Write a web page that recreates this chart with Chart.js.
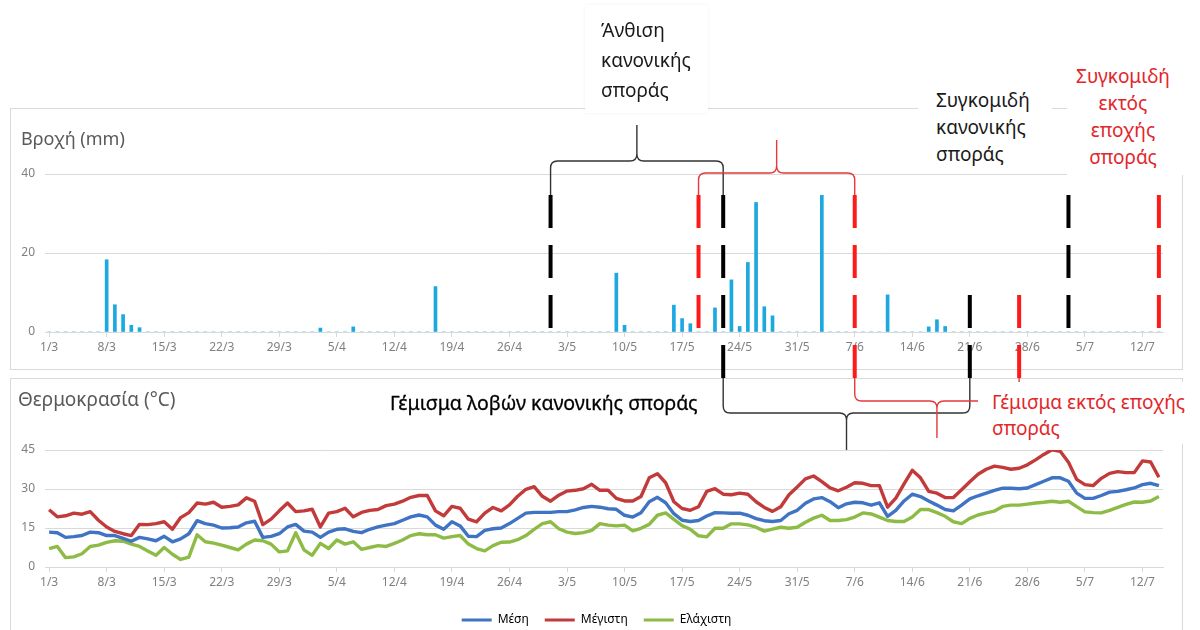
<!DOCTYPE html>
<html lang="el">
<head>
<meta charset="UTF-8">
<title>Βροχή και θερμοκρασία</title>
<script src="https://cdn.jsdelivr.net/npm/chart.js"></script>
<style>
    body { margin: 0; background: #fff; font-family: 'Noto Sans', sans-serif; }
    #wrap { position: relative; width: 1200px; height: 630px; overflow: hidden; }
    .panel { position: absolute; box-sizing: border-box; border: 1px solid #d9d9d9; }
    canvas { position: absolute; }
    .ttl { position: absolute; color: #595959; white-space: nowrap; }
    .note { position: absolute; background: #fff; font-size: 19px; white-space: nowrap; box-sizing: border-box; }
</style>
</head>
<body>
<div id="wrap">
    <div class="panel" style="left:10px;top:108px;width:1173px;height:262px"></div>
    <div class="panel" style="left:10px;top:378px;width:1173px;height:260px"></div>
    <canvas id="rain" width="1173" height="262" style="left:10px;top:108px"></canvas>
    <canvas id="temp" width="1173" height="270" style="left:10px;top:378px"></canvas>
    <canvas id="overlay" width="1200" height="630" style="left:0;top:0"></canvas>

    <div class="ttl" style="left:21px;top:126px;font-size:18px">Βροχή (mm)</div>
    <div class="ttl" style="left:18px;top:386px;font-size:19px">Θερμοκρασία (°C)</div>

    <div class="note" style="left:585px;top:5px;width:123px;height:108px;padding:10px 0 0 16px;line-height:30px;color:#1a1a1a;box-shadow:0 0 3px rgba(0,0,0,0.06)">Άνθιση<br>κανονικής<br>σποράς</div>
    <div class="note" style="left:918px;top:78px;width:134px;height:96px;padding:9px 0 0 18px;line-height:27px;color:#1a1a1a">Συγκομιδή<br>κανονικής<br>σποράς</div>
    <div class="note" style="left:1067px;top:50px;width:128px;height:125px;padding:13px 16px 0 0;line-height:27px;color:#e3262b;text-align:center">Συγκομιδή<br>εκτός<br>εποχής<br>σποράς</div>
    <div class="note" style="left:390px;top:391px;font-size:19.5px;line-height:24px;color:#000;background:transparent;-webkit-text-stroke:0.3px #000">Γέμισμα λοβών κανονικής σποράς</div>
    <div class="note" style="left:978px;top:382px;width:217px;height:62px;padding:7px 0 0 14px;line-height:26px;color:#e3262b">Γέμισμα εκτός εποχής<br>σποράς</div>
</div>

<script>
    // ημερομηνίες 1/3 - 14/7
    const months = [[3, 31], [4, 30], [5, 31], [6, 30], [7, 14]];
    const days = [];
    months.forEach(([m, n]) => { for (let d = 1; d <= n; d++) days.push(d + '/' + m); });

    // βροχή (mm)
    const rain = [
        0, 0, 0, 0, 0, 0, 0, 18.3, 6.9, 4.4,
        1.7, 1.1, 0, 0, 0, 0, 0, 0, 0, 0,
        0, 0, 0, 0, 0, 0, 0, 0, 0, 0,
        0, 0, 0, 1.0, 0, 0, 0, 1.3, 0, 0,
        0, 0, 0, 0, 0, 0, 0, 11.5, 0, 0,
        0, 0, 0, 0, 0, 0, 0, 0, 0, 0,
        0, 0, 0, 0, 0, 0, 0, 0, 0, 14.9,
        1.7, 0, 0, 0, 0, 0, 6.8, 3.4, 2.1, 0,
        0, 6.1, 0, 13.2, 1.4, 17.6, 32.8, 6.4, 4.1, 0,
        0, 0, 0, 0, 34.6, 0, 0, 0, 0, 0,
        0, 0, 9.4, 0, 0, 0, 0, 1.3, 3.1, 1.4,
        0, 0, 0, 0, 0, 0, 0, 0, 0, 0,
        0, 0, 0, 0, 0, 0, 0, 0, 0, 0,
        0, 0, 0, 0, 0, 0
    ];

    // θερμοκρασία (°C)
    const tMean = [
        13.4, 13.2, 11.4, 11.7, 12.1, 13.4, 13.2, 12.1, 12.1, 11.0,
        9.9, 11.4, 10.8, 10.1, 11.8, 9.7, 10.8, 12.8, 17.8, 16.7,
        16.1, 15.0, 15.1, 15.4, 17.0, 17.6, 11.4, 11.8, 12.8, 15.4,
        16.4, 13.8, 13.4, 11.4, 13.4, 14.5, 14.7, 13.7, 13.2, 14.5,
        15.4, 16.1, 16.7, 18.0, 19.3, 20.0, 19.3, 16.1, 14.5, 17.4,
        15.8, 11.8, 11.7, 14.1, 14.7, 15.0, 16.7, 18.7, 20.7, 21.0,
        21.0, 21.0, 21.3, 21.3, 22.0, 22.9, 23.3, 23.0, 22.4, 22.2,
        19.9, 19.2, 20.9, 25.1, 26.8, 24.7, 20.5, 18.0, 17.5, 17.9,
        19.6, 20.9, 20.8, 20.7, 20.7, 19.9, 18.6, 17.8, 17.5, 17.9,
        20.5, 21.8, 24.5, 26.2, 26.7, 25.1, 22.8, 24.3, 24.9, 24.7,
        23.8, 24.7, 19.5, 21.8, 25.4, 28.0, 27.1, 25.4, 23.8, 22.1,
        21.6, 23.8, 26.2, 27.4, 28.4, 29.5, 30.3, 30.3, 30.1, 30.4,
        31.7, 33.0, 34.3, 34.3, 33.0, 28.4, 26.4, 26.4, 27.5, 28.8,
        29.1, 29.7, 30.4, 31.7, 32.2, 31.3
    ];
    const tMax = [
        22.0, 19.3, 19.7, 20.7, 20.3, 21.3, 18.0, 15.4, 13.7, 12.8,
        12.1, 16.4, 16.3, 16.7, 17.4, 14.5, 19.0, 20.9, 24.6, 24.2,
        24.9, 23.0, 23.3, 23.9, 26.6, 25.3, 16.3, 18.4, 21.6, 24.6,
        21.3, 21.6, 22.2, 15.4, 20.7, 21.3, 22.6, 19.3, 21.0, 21.8,
        22.1, 23.6, 24.2, 25.3, 26.8, 27.5, 27.5, 21.6, 19.7, 23.3,
        22.6, 18.4, 17.4, 20.7, 22.9, 21.6, 23.9, 27.2, 29.9, 30.9,
        27.2, 25.3, 27.6, 29.2, 29.5, 30.1, 31.8, 29.5, 29.5, 26.4,
        25.4, 25.4, 27.1, 34.3, 35.9, 32.4, 25.1, 22.5, 21.8, 23.2,
        29.1, 30.1, 28.0, 27.8, 28.4, 28.0, 25.1, 22.9, 21.4, 23.2,
        27.8, 30.8, 33.9, 35.0, 32.8, 30.4, 29.3, 30.7, 32.4, 32.2,
        31.3, 31.3, 23.0, 26.5, 32.0, 37.2, 34.3, 29.1, 28.4, 26.7,
        26.7, 29.7, 32.8, 35.7, 37.6, 38.8, 38.3, 37.6, 38.0, 39.3,
        41.2, 43.3, 45.1, 44.5, 40.3, 33.7, 31.7, 31.3, 34.1, 36.0,
        36.7, 36.3, 36.3, 40.8, 40.4, 34.5
    ];
    const tMin = [
        7.1, 7.9, 3.6, 3.9, 5.1, 7.9, 8.4, 9.5, 10.1, 9.9,
        8.8, 7.9, 6.2, 4.5, 7.5, 4.9, 2.9, 3.8, 12.4, 9.7,
        9.2, 8.4, 7.5, 6.6, 8.8, 10.4, 10.1, 8.8, 5.8, 6.2,
        13.2, 6.6, 4.5, 9.1, 7.1, 10.4, 8.8, 9.7, 6.8, 7.5,
        8.2, 7.9, 9.1, 10.4, 12.1, 12.8, 12.4, 12.4, 11.1, 11.7,
        12.1, 8.8, 7.1, 6.2, 8.2, 9.5, 9.6, 10.5, 12.1, 14.5,
        16.7, 17.4, 14.7, 13.4, 12.9, 13.2, 14.1, 16.7, 16.1, 15.8,
        16.1, 13.9, 14.9, 16.4, 19.9, 20.8, 18.3, 15.9, 14.5, 12.0,
        11.6, 14.9, 14.9, 16.6, 16.6, 16.2, 15.3, 13.8, 14.6, 15.3,
        14.9, 15.3, 17.2, 18.8, 19.9, 17.9, 17.9, 18.2, 19.2, 20.8,
        20.4, 19.2, 17.9, 17.5, 17.5, 19.2, 22.1, 22.1, 20.9, 19.5,
        17.4, 16.7, 18.7, 20.0, 20.8, 21.5, 23.3, 23.8, 23.8, 24.2,
        24.6, 24.9, 25.3, 24.9, 25.3, 23.2, 21.2, 20.9, 20.8, 21.8,
        22.9, 24.1, 25.0, 24.9, 25.4, 27.1
    ];
    const seriesNames = ['Μέση', 'Μέγιστη', 'Ελάχιστη'];

    // στάδια (ημερομηνίες των διακεκομμένων γραμμών)
    const flowering = ['1/5', '22/5'];
    const floweringLate = ['19/5', '7/6'];
    const filling = ['22/5', '21/6'];
    const fillingLate = ['7/6', '27/6'];
    const harvest = '3/7';
    const harvestLate = '14/7';

    Chart.defaults.font.family = "'Noto Sans', sans-serif";
    Chart.defaults.color = '#808080';

    const gridColor = '#d9d9d9';

    function xAxis(h) {
        return {
            offset: true,
            grid: { display: true, drawOnChartArea: false, drawTicks: true, tickLength: 5, color: gridColor, offset: false },
            border: { color: gridColor },
            ticks: { autoSkip: false, maxRotation: 0, font: { size: 12 }, padding: 3 },
            afterBuildTicks: s => { s.ticks = s.ticks.filter(t => t.value % 7 === 0); },
            afterFit: s => { s.height = h; }
        };
    }
    function yAxis(max, step) {
        return {
            min: 0, max: max,
            grid: { color: gridColor, drawTicks: false },
            border: { display: false },
            ticks: { stepSize: step, padding: 10, font: { size: 12 } },
            afterFit: s => { s.width = 35; }
        };
    }
    // κενός άξονας δεξιά, μόνο για το περιθώριο
    const spacer = {
        position: 'right',
        grid: { display: false },
        border: { display: false },
        ticks: { display: false },
        afterFit: s => { s.width = 20; }
    };

    const rainChart = new Chart(document.getElementById('rain'), {
        type: 'bar',
        data: {
            labels: days,
            datasets: [{ data: rain, backgroundColor: '#1da9e0', barThickness: 3 }]
        },
        options: {
            responsive: false,
            animation: false,
            layout: { padding: { left: 0, right: 0, top: 66, bottom: 0 } },
            plugins: { legend: { display: false }, tooltip: { enabled: false } },
            scales: { x: xAxis(38), y: yAxis(40, 20), pad: spacer }
        }
    });

    const lineColors = ['#3f73c3', '#c23a3a', '#8dbb45'];
    const tempChart = new Chart(document.getElementById('temp'), {
        type: 'line',
        data: {
            labels: days,
            datasets: [tMean, tMax, tMin].map((d, i) => ({
                label: seriesNames[i],
                data: d,
                borderColor: lineColors[i],
                backgroundColor: lineColors[i],
                borderWidth: 3.4,
                pointRadius: 0,
                tension: 0,
                borderJoinStyle: 'round'
            }))
        },
        options: {
            responsive: false,
            animation: false,
            layout: { padding: { left: 0, right: 0, top: 72, bottom: 12 } },
            plugins: {
                tooltip: { enabled: false },
                legend: {
                    position: 'bottom',
                    labels: {
                        boxWidth: 30, boxHeight: 3, padding: 16,
                        font: { size: 12 }, color: '#595959',
                        generateLabels: c => c.data.datasets.map((d, i) => ({
                            text: d.label, fillStyle: d.borderColor, strokeStyle: d.borderColor,
                            lineWidth: 0, hidden: false, datasetIndex: i
                        }))
                    }
                }
            },
            scales: { x: xAxis(31), y: yAxis(45, 15), pad: spacer }
        }
    });

    // σχόλια πάνω από τα δύο διαγράμματα
    const ctx = document.getElementById('overlay').getContext('2d');
    const px = label => 10 + rainChart.scales.x.getPixelForValue(days.indexOf(label));
    const black = '#000';
    const red = '#ff1a1a';

    function dashed(label, color, y1, y2) {
        ctx.save();
        ctx.strokeStyle = color;
        ctx.lineWidth = 4;
        ctx.setLineDash([33, 17]);
        ctx.beginPath();
        ctx.moveTo(px(label), y1);
        ctx.lineTo(px(label), y2);
        ctx.stroke();
        ctx.restore();
    }

    function brace(a, b, yEnd, yBar, yTip, color) {
        const x1 = px(a), x2 = px(b), xc = (x1 + x2) / 2, r = 7;
        const d = yBar < yEnd ? -1 : 1;
        ctx.save();
        ctx.strokeStyle = color;
        ctx.lineWidth = 1.4;
        ctx.beginPath();
        ctx.moveTo(x1, yEnd);
        ctx.lineTo(x1, yBar - d * r);
        ctx.quadraticCurveTo(x1, yBar, x1 + r, yBar);
        ctx.lineTo(xc - r, yBar);
        ctx.quadraticCurveTo(xc, yBar, xc, yBar + d * r);
        ctx.lineTo(xc, yTip);
        ctx.moveTo(xc, yBar + d * r);
        ctx.quadraticCurveTo(xc, yBar, xc + r, yBar);
        ctx.lineTo(x2 - r, yBar);
        ctx.quadraticCurveTo(x2, yBar, x2, yBar - d * r);
        ctx.lineTo(x2, yEnd);
        ctx.stroke();
        ctx.restore();
    }

    brace(flowering[0], flowering[1], 195, 161, 125, '#333');
    brace(floweringLate[0], floweringLate[1], 195, 173, 140, '#e5393b');
    brace(filling[0], filling[1], 378, 413, 450, '#333');
    brace(fillingLate[0], fillingLate[1], 378, 401, 438, '#e5393b');

    dashed(flowering[0], black, 195, 330);
    dashed(floweringLate[0], red, 195, 330);
    dashed(flowering[1], black, 195, 378);
    dashed(floweringLate[1], red, 195, 378);
    dashed(filling[1], black, 295, 378);
    dashed(fillingLate[1], red, 295, 378);
    dashed(harvest, black, 195, 330);
    dashed(harvestLate, red, 195, 330);
</script>
</body>
</html>
